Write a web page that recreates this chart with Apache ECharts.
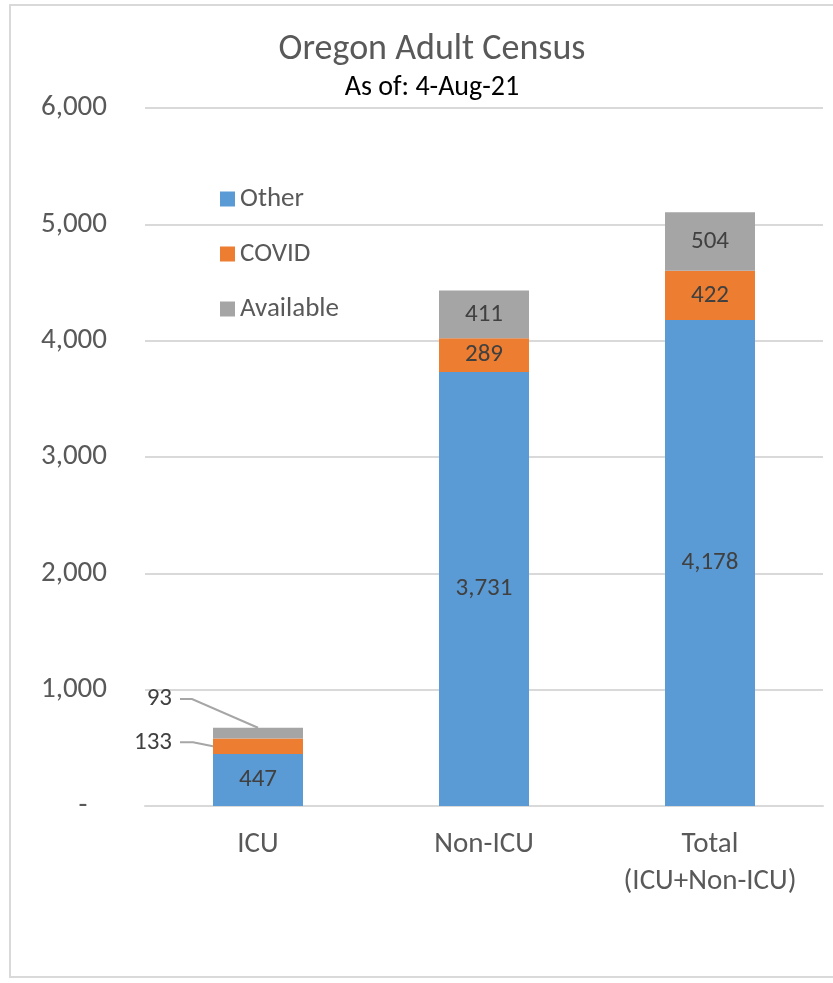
<!DOCTYPE html>
<html>
<head>
<meta charset="utf-8">
<script src="https://cdn.jsdelivr.net/npm/echarts@6/dist/echarts.min.js"></script>
<style>
html,body{margin:0;padding:0;background:#fff;}
#chart{width:833px;height:983px;}
</style>
</head>
<body>
<div id="chart"></div>
<script>
const categories = ['ICU', 'Non-ICU', 'Total\n(ICU+Non-ICU)'];
const seriesNames = ['Other', 'COVID', 'Available'];
const other = [447, 3731, 4178];
const covid = [133, 289, 422];
const available = [93, 411, 504];
const yTicks = { min: 0, max: 6000, interval: 1000 };

const FONT = 'Carlito, Lato, "Open Sans", sans-serif';
const colors = ['#5B9BD5', '#ED7D31', '#A5A5A5'];
const BAR_W = 90;

const chart = echarts.init(document.getElementById('chart'), null, { renderer: 'canvas' });

function inside() {
  return {
    show: true,
    position: 'inside',
    color: '#404040',
    fontSize: 25,
    fontFamily: FONT,
    formatter: p => p.value.toLocaleString('en-US')
  };
}

function makeData(arr, seriesIdx) {
  return arr.map((v, i) => {
    if (i === 0 && seriesIdx > 0) {
      return {
        value: v,
        label: {
          position: 'left',
          distance: 41,
          offset: [0, seriesIdx === 2 ? -34 : -4]
        }
      };
    }
    return v;
  });
}

const dataArrays = [other, covid, available];

const option = {
  animation: false,
  backgroundColor: '#fff',
  color: colors,
  title: {
    text: 'Oregon Adult Census',
    subtext: 'As of: 4-Aug-21',
    left: 432,
    textAlign: 'center',
    top: 32,
    padding: 0,
    itemGap: 5,
    textStyle: { fontFamily: FONT, fontSize: 36, fontWeight: 'normal', color: '#595959', lineHeight: 36 },
    subtextStyle: { fontFamily: FONT, fontSize: 28, color: '#000', lineHeight: 30 }
  },
  legend: {
    orient: 'vertical',
    left: 215,
    top: 180,
    itemWidth: 15,
    itemHeight: 15,
    itemGap: 27,
    icon: 'rect',
    textStyle: { fontFamily: FONT, fontSize: 27, color: '#595959', lineHeight: 28 },
    data: seriesNames
  },
  grid: { left: 145, right: 10, top: 108, bottom: 983 - 806, containLabel: false },
  xAxis: {
    type: 'category',
    data: categories,
    axisLine: { lineStyle: { color: '#d9d9d9', width: 2 } },
    axisTick: { show: false },
    axisLabel: { fontFamily: FONT, fontSize: 29, color: '#595959', margin: 20, lineHeight: 37 }
  },
  yAxis: {
    type: 'value',
    min: yTicks.min,
    max: yTicks.max,
    interval: yTicks.interval,
    axisLine: { show: false },
    axisTick: { show: false },
    splitLine: { lineStyle: { color: '#d9d9d9', width: 2 } },
    axisLabel: {
      fontFamily: FONT, fontSize: 29, color: '#595959', margin: 38,
      formatter: v => v === 0 ? '-   ' : v.toLocaleString('en-US')
    }
  },
  series: seriesNames.map((n, si) => ({
    name: n,
    type: 'bar',
    stack: 'total',
    barWidth: BAR_W,
    data: makeData(dataArrays[si], si),
    label: inside(),
    emphasis: { disabled: true }
  })),
  graphic: []
};

chart.setOption(option);

// Leader lines for ICU's small segments
function leaderLines() {
  const cx = chart.convertToPixel({ gridIndex: 0 }, [0, 0])[0];
  const barLeft = cx - BAR_W / 2;
  const covTop = other[0] + covid[0];
  const avTop = covTop + available[0];
  const yCovMid = chart.convertToPixel({ gridIndex: 0 }, [0, other[0] + covid[0] / 2])[1];
  const yAvMid = chart.convertToPixel({ gridIndex: 0 }, [0, covTop + available[0] / 2])[1];
  const yAvTop = chart.convertToPixel({ gridIndex: 0 }, [0, avTop])[1];
  const lyAv = yAvMid - 34;
  const lyCov = yCovMid - 4;
  return [
    {
      type: 'polyline',
      shape: { points: [[barLeft - 33, lyAv], [barLeft - 21, lyAv], [cx, yAvTop]] },
      style: { stroke: '#a6a6a6', lineWidth: 2, fill: null },
      z: 10
    },
    {
      type: 'polyline',
      shape: { points: [[barLeft - 33, lyCov], [barLeft - 20, lyCov], [barLeft, yCovMid]] },
      style: { stroke: '#a6a6a6', lineWidth: 2, fill: null },
      z: 10
    },
    {
      type: 'rect',
      shape: { x: 10, y: 5, width: 840, height: 972 },
      style: { stroke: '#d9d9d9', lineWidth: 2, fill: null },
      silent: true,
      z: -1
    }
  ];
}

chart.setOption({ graphic: leaderLines() });
</script>
</body>
</html>
